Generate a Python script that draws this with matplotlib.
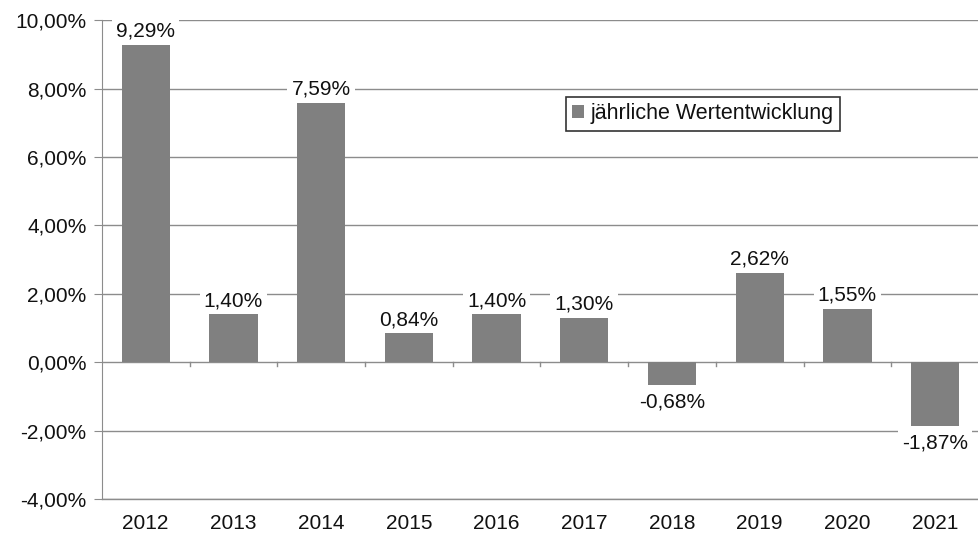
import matplotlib.pyplot as plt
from matplotlib.ticker import FuncFormatter

years = ["2012", "2013", "2014", "2015", "2016", "2017", "2018", "2019", "2020", "2021"]
values = [9.29, 1.40, 7.59, 0.84, 1.40, 1.30, -0.68, 2.62, 1.55, -1.87]
series_name = "jährliche Wertentwicklung"

plt.rcParams["font.family"] = ["Liberation Sans", "DejaVu Sans"]
plt.rcParams["font.size"] = 14.5

fig = plt.figure(figsize=(9.79, 5.33), dpi=100)
ax = fig.add_axes([0.104, 0.064, 0.896, 0.898])

x = range(len(years))
ax.bar(x, values, width=0.55, color="#808080", label=series_name, zorder=2)

ax.set_ylim(-4, 10)
ax.set_xlim(-0.5, len(years) - 0.5)
ax.set_yticks(range(-4, 11, 2))
ax.yaxis.set_major_formatter(FuncFormatter(lambda v, p: f"{v:.2f}%".replace(".", ",")))
ax.grid(axis="y", color="#8c8c8c", linewidth=1, zorder=0)
ax.set_axisbelow(True)
ax.axhline(-4, color="#8c8c8c", linewidth=1, zorder=0, clip_on=False)

for s in ["top", "right", "bottom"]:
    ax.spines[s].set_visible(False)
ax.spines["left"].set_color("#8c8c8c")
ax.tick_params(axis="y", length=6, color="#8c8c8c", pad=5, labelcolor="#111111", labelsize=15)
ax.tick_params(axis="x", length=0, pad=11, labelcolor="#111111", labelsize=15)
ax.set_xticks(list(x))
ax.set_xticklabels(years)

for i, v in enumerate(values):
    lbl = f"{v:.2f}%".replace(".", ",")
    if v >= 0:
        ax.annotate(lbl, (i, v), xytext=(0, 3), textcoords="offset points",
                    ha="center", va="bottom", color="#111111", fontsize=15,
                    bbox=dict(boxstyle="square,pad=0.2", fc="white", ec="none"), zorder=3)
    else:
        ax.annotate(lbl, (i, v), xytext=(0, -5), textcoords="offset points",
                    ha="center", va="top", color="#111111", fontsize=15,
                    bbox=dict(boxstyle="square,pad=0.2", fc="white", ec="none"), zorder=3)

# small ticks under the zero line between categories
for i in range(len(years) - 1):
    ax.plot([i + 0.5, i + 0.5], [0, -0.12], color="#8c8c8c", linewidth=1, zorder=1)

leg = ax.legend(loc="upper left", bbox_to_anchor=(0.529, 0.84), frameon=True, fancybox=False,
                edgecolor="black", handlelength=0.55, handleheight=0.55, handletextpad=0.3,
                borderpad=0.3, borderaxespad=0, fontsize=15.5)
leg.get_frame().set_linewidth(1.2)
for t in leg.get_texts():
    t.set_color("#111111")

fig.savefig("out.png", dpi=100)
